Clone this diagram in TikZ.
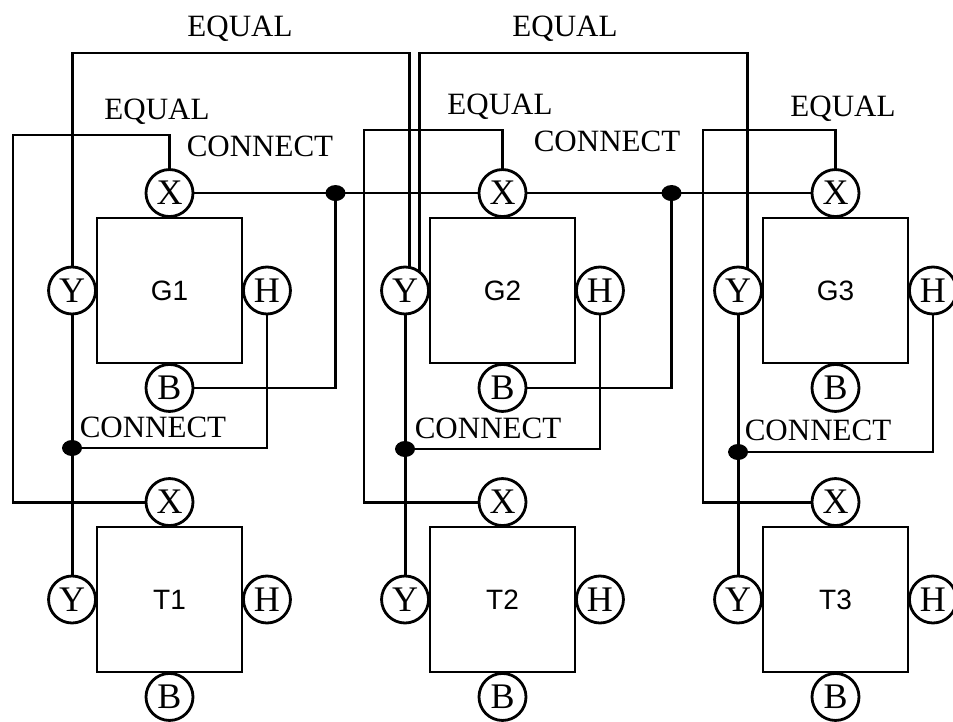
\documentclass[tikz,border=0pt]{standalone}
\usepackage{fontspec}
\setmainfont{Liberation Serif}
\newfontfamily\sansf{Liberation Sans}
\usetikzlibrary{shapes.geometric}
\begin{document}
\begin{tikzpicture}[x=1pt,y=-1pt,
  wire/.style={line width=2.9pt},
  modbox/.style={draw, line width=2.9pt, minimum width=145pt, minimum height=145pt, inner sep=0pt, font=\sansf\fontsize{28}{28}\selectfont},
  port/.style={circle, draw, fill=white, line width=2.8pt, minimum size=47pt, inner sep=0pt, outer sep=0pt, font=\fontsize{36}{36}\selectfont},
  jdot/.style={ellipse, fill=black, minimum width=20pt, minimum height=16pt, inner sep=0pt},
  lbl/.style={font=\fontsize{31}{31}\selectfont, inner sep=0pt, anchor=base}
]
\useasboundingbox (0,0) rectangle (953,722);

% modules
\foreach \i/\o in {1/0,2/333,3/666} {
  \node[modbox] (G\i) at (169.5+\o,290.5) {G\i};
  \node[modbox] (T\i) at (169.5+\o,599.5) {T\i};
  \node[port, anchor=south] (XG\i) at (G\i.north) {X};
  \node[port, anchor=east]  (YG\i) at (G\i.west)  {Y};
  \node[port, anchor=west]  (HG\i) at (G\i.east)  {H};
  \node[port, anchor=north] (BG\i) at (G\i.south) {B};
  \node[port, anchor=south] (XT\i) at (T\i.north) {X};
  \node[port, anchor=east]  (YT\i) at (T\i.west)  {Y};
  \node[port, anchor=west]  (HT\i) at (T\i.east)  {H};
  \node[port, anchor=north] (BT\i) at (T\i.south) {B};
}

% labels
\node[lbl] (eqT1) at (240,37) {EQUAL};
\node[lbl] (eqT2) at (565,37) {EQUAL};
\node[lbl] (eqS1) at (157,120) {EQUAL};
\node[lbl] (eqS2) at (500,115) {EQUAL};
\node[lbl] (eqS3) at (843,117) {EQUAL};
\node[lbl] (cnU1) at (260,157) {CONNECT};
\node[lbl] (cnU2) at (607,152) {CONNECT};
\node[lbl] (cnL1) at (153,437) {CONNECT};
\node[lbl] (cnL2) at (488,438) {CONNECT};
\node[lbl] (cnL3) at (818,440) {CONNECT};

% big EQUAL brackets
\coordinate (eqtop) at (0,53);
\draw[wire] (YG1.north) -- (YG1.north |- eqtop) -| (YG2.78);
\draw[wire] (YG2.53) -- (YG2.53 |- eqtop) -| (YG3.67);

% small EQUAL brackets
\coordinate (sq1) at (13,135);
\coordinate (sq2) at (364,130);
\coordinate (sq3) at (703,130);
\foreach \i in {1,2,3} {
  \draw[wire] (XG\i.north) |- (sq\i) |- (XT\i.west);
}

% upper CONNECT
\node[jdot, xshift=166pt] (dU1) at (XG1) {};
\node[jdot, xshift=169pt] (dU2) at (XG2) {};
\draw[wire] (XG1) -- (dU1.center) -- (XG2);
\draw[wire] (dU1.center) |- (BG1);
\draw[wire] (XG2) -- (dU2.center) -- (XG3);
\draw[wire] (dU2.center) |- (BG2);

% lower CONNECT
\coordinate (lv1) at (0,448);
\coordinate (lv2) at (0,449);
\coordinate (lv3) at (0,452);
\foreach \i in {1,2,3} {
  \node[jdot] (dL\i) at (YG\i |- lv\i) {};
  \draw[wire] (YG\i) -- (YT\i);
  \draw[wire] (HG\i) |- (dL\i.center);
}
\end{tikzpicture}
\end{document}
